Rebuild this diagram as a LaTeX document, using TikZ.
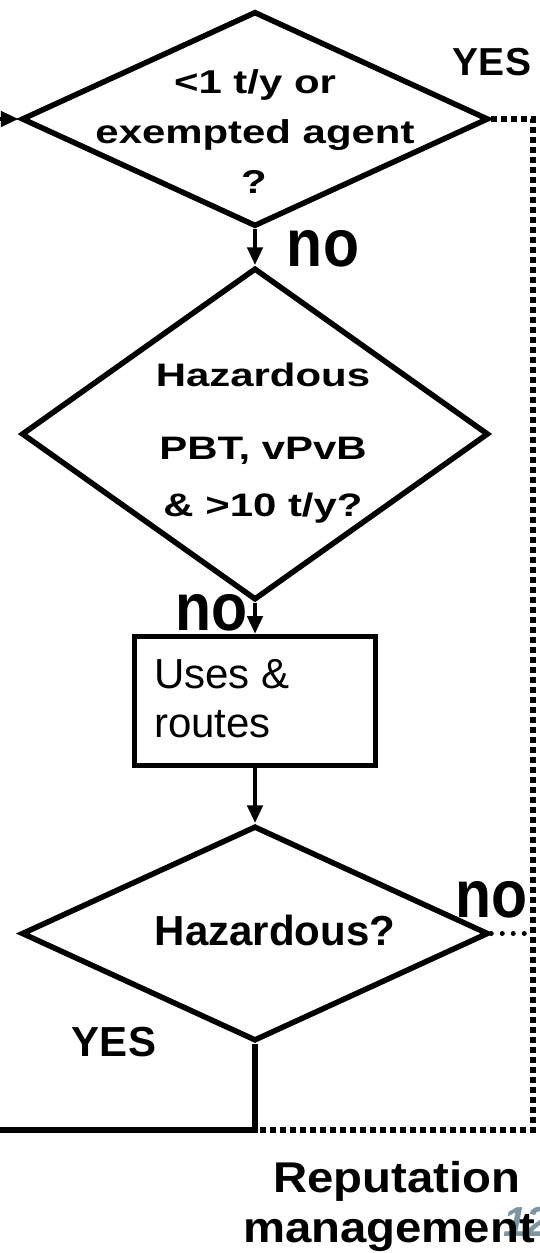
\documentclass[tikz,border=0pt]{standalone}
\usepackage{fontspec}
\setmainfont{Liberation Sans}
\usepackage{graphicx}
\usetikzlibrary{shapes.geometric,arrows.meta}
\newcommand\sx[2]{\scalebox{#1}[1]{#2}}
\newcommand\fs[1]{\fontsize{#1}{#1}\selectfont}
\definecolor{slidenum}{RGB}{122,150,162}
\tikzset{
  dia/.style={draw, diamond, line width=5.5pt, minimum width=467pt, minimum height=215pt, inner sep=0pt},
  txt/.style={inner sep=0pt, anchor=base, font=\bfseries},
  arr/.style={line width=4.5pt, -{Triangle[length=18pt,width=15pt]}},
  solidln/.style={line width=5.5pt},
  dotln/.style={line width=6pt, dash pattern=on 6pt off 4pt},
  dotsmall/.style={line width=5pt, line cap=round, dash pattern=on 0pt off 11pt},
  boxst/.style={draw, line width=5pt, minimum width=241pt, minimum height=129pt, inner sep=0pt},
}
\begin{document}
\begin{tikzpicture}[x=1pt,y=-1pt]
\useasboundingbox (0,0) rectangle (539,1253);
% shapes
\node[dia] (d1) at (255,119) {};
\node[dia, minimum height=332pt] (d2) at (255,434) {};
\node[boxst] (box) at (255,701) {};
\node[dia] (d3) at (255,933.5) {};
% helper coordinates
\coordinate (startL) at (0,119);
\coordinate (jn) at (255,1130);
\coordinate (endL) at (0,1130);
\coordinate (cTR) at (533,119);
\coordinate (cBR) at (533,1130);
% connectors
\draw[arr] (startL) -- (d1.west);
\draw[arr] (d1.south) -- (d2.north);
\draw[arr] (d2.south) -- (box.north);
\draw[arr] (box.south) -- (d3.north);
\draw[solidln] (d3.south) -- (jn) -- (endL);
\draw[dotln] (d1.east) -- (cTR) -- (cBR) -- (jn);
\draw[dotsmall] (d3.east) -- (cTR |- d3.east);
% diamond 1 text
\node[txt] (t11) at (255,93) {\fs{33}\sx{1.27}{<1 t/y or}};
\node[txt] (t12) at (255,143) {\fs{33}\sx{1.27}{exempted agent}};
\node[txt] (t13) at (254,193) {\fs{33}\sx{1.27}{?}};
% diamond 2 text
\node[txt] (t21) at (263,386.5) {\fs{32.5}\sx{1.29}{Hazardous}};
\node[txt] (t22) at (263,459) {\fs{32.5}\sx{1.29}{PBT, vPvB}};
\node[txt] (t23) at (263,516) {\fs{32.5}\sx{1.29}{\& >10 t/y?}};
% box text
\node[inner sep=0pt, anchor=base west] (b1) at (154,688) {\fs{42}Uses \&};
\node[inner sep=0pt, anchor=base west] (b2) at (154,737) {\fs{42}routes};
% diamond 3 text
\node[txt] (t31) at (275,945) {\fs{42}Hazardous?};
% branch labels
\node[txt] (yes1) at (492,75) {\fs{39}YES};
\node[txt] (no1) at (323,266) {\fs{67}\sx{0.88}{no}};
\node[txt] (no2) at (211.5,630) {\fs{67}\sx{0.88}{no}};
\node[txt] (no3) at (491.5,917) {\fs{67}\sx{0.88}{no}};
\node[txt] (yes2) at (114,1056) {\fs{42}YES};
% slide number
\node[inner sep=0pt, anchor=base west, text=slidenum, font=\bfseries\itshape] (pg) at (503,1236) {\fs{42}12};
% result
\node[txt] (r1) at (397,1192) {\fs{43}\sx{1.1}{Reputation}};
\node[txt] (r2) at (389,1242) {\fs{43}\sx{1.1}{management}};
\end{tikzpicture}
\end{document}
